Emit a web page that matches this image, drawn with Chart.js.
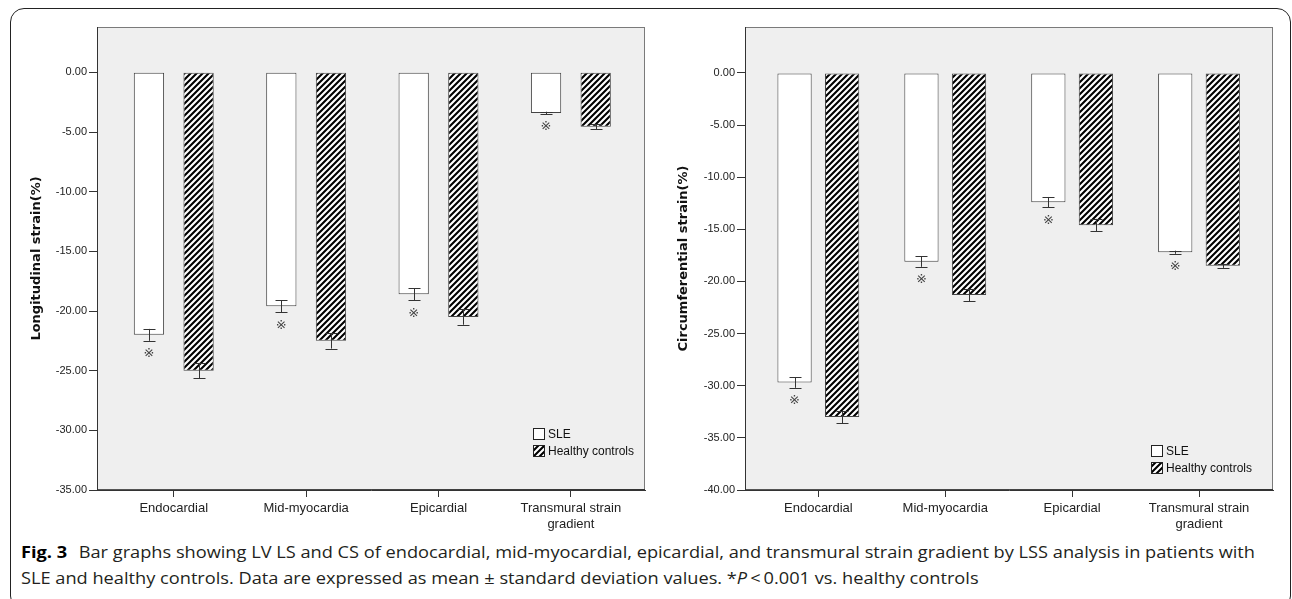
<!DOCTYPE html>
<html lang="en">
<head>
<meta charset="UTF-8">
<title>LV LS and CS</title>
<style>
  html, body { margin: 0; padding: 0; background: #fff; }
  body { width: 1292px; height: 599px; position: relative; overflow: hidden; }
  #box { position: absolute; left: 10px; top: 8px; width: 1279px; height: 600px;
         border: 1px solid #222; border-radius: 14px; }
  canvas { position: absolute; top: 0; }
  #c1 { left: 0; }
  #c2 { left: 646px; }
  #cap { position: absolute; left: 21px; top: 539px; font-family: "Open Sans", sans-serif;
         font-size: 16px; line-height: 26px; color: #231f20; white-space: nowrap; }
  #cap .ln { display: block; transform-origin: 0 50%; }
  #cap .ln span { display: inline-block; }
  #cap b { font-weight: 700; color: #000; margin-right: 6px; }
</style>
</head>
<body>
<div id="box"></div>
<canvas id="c1" width="646" height="535"></canvas>
<canvas id="c2" width="646" height="535"></canvas>
<div id="cap">
  <div class="ln"><span id="l1"><b>Fig. 3</b> Bar graphs showing LV LS and CS of endocardial, mid-myocardial, epicardial, and transmural strain gradient by LSS analysis in patients with</span></div>
  <div class="ln"><span id="l2">SLE and healthy controls. Data are expressed as mean ± standard deviation values. *<i>P</i>&thinsp;&lt;&thinsp;0.001 vs. healthy controls</span></div>
</div>

<script src="https://cdn.jsdelivr.net/npm/chart.js"></script>
<script>
  // data
  const categories = ['Endocardial', 'Mid-myocardia', 'Epicardial', 'Transmural strain\ngradient'];
  const seriesNames = ['SLE', 'Healthy controls'];

  const lsSle = [-22.0, -19.6, -18.6, -3.4];
  const lsSleErr = [0.5, 0.5, 0.5, 0.1];
  const lsHc = [-25.0, -22.5, -20.5, -4.55];
  const lsHcErr = [0.65, 0.65, 0.65, 0.2];

  const csSle = [-29.7, -18.1, -12.4, -17.2];
  const csSleErr = [0.5, 0.5, 0.5, 0.15];
  const csHc = [-33.0, -21.3, -14.6, -18.5];
  const csHcErr = [0.6, 0.6, 0.6, 0.2];

  const significant = [true, true, true, true]; // ※ under SLE bars

  const lsTicks = [0, -5, -10, -15, -20, -25, -30, -35];
  const csTicks = [0, -5, -10, -15, -20, -25, -30, -35, -40];

  // diagonal hatch for the controls
  function makeHatch() {
    const c = document.createElement('canvas');
    c.width = c.height = 6;
    const g = c.getContext('2d');
    g.fillStyle = '#fff';
    g.fillRect(0, 0, 6, 6);
    g.strokeStyle = '#000';
    g.lineWidth = 2.1;
    g.beginPath();
    g.moveTo(-1, 7); g.lineTo(7, -1);
    g.moveTo(-4, 4); g.lineTo(4, -4);
    g.moveTo(2, 10); g.lineTo(10, 2);
    g.stroke();
    return g.createPattern(c, 'repeat');
  }
  const hatch = makeHatch();

  // grey plot panel, error bars, ※ marks, legend
  const extras = {
    id: 'extras',
    beforeDraw(chart) {
      const a = chart.chartArea, ctx = chart.ctx;
      ctx.save();
      ctx.fillStyle = '#efefef';
      ctx.fillRect(a.left, a.top, a.width, a.height);
      ctx.restore();
    },
    afterDatasetsDraw(chart, args, opts) {
      const ctx = chart.ctx, ys = chart.scales.y;
      ctx.save();
      ctx.strokeStyle = '#333';
      ctx.lineWidth = 1;
      chart.data.datasets.forEach((ds, d) => {
        chart.getDatasetMeta(d).data.forEach((bar, i) => {
          const v = ds.data[i].y, e = opts.errs[d][i];
          const x = Math.round(bar.x) + 0.5;
          const lo = ys.getPixelForValue(v - e), hi = ys.getPixelForValue(v + e);
          ctx.beginPath();
          ctx.moveTo(x, hi); ctx.lineTo(x, lo);
          ctx.moveTo(x - 6, Math.round(hi) + 0.5); ctx.lineTo(x + 6, Math.round(hi) + 0.5);
          ctx.moveTo(x - 6, Math.round(lo) + 0.5); ctx.lineTo(x + 6, Math.round(lo) + 0.5);
          ctx.stroke();
          if (d === 0 && significant[i]) {
            ctx.fillStyle = '#444';
            ctx.font = '13px "DejaVu Sans", "Noto Sans CJK SC"';
            ctx.textAlign = 'center';
            ctx.textBaseline = 'middle';
            ctx.fillText('\u203B', bar.x, lo + 13);
          }
        });
      });
      ctx.restore();
    },
    afterDraw(chart, args, opts) {
      const a = chart.chartArea, ctx = chart.ctx;
      ctx.save();
      ctx.strokeStyle = '#7a7a7a';
      ctx.lineWidth = 1;
      ctx.strokeRect(a.left + 0.5, a.top + 0.5, a.width - 1, a.height - 1);
      ctx.strokeStyle = '#333';
      ctx.beginPath();
      ctx.moveTo(a.left + 0.5, a.top); ctx.lineTo(a.left + 0.5, a.bottom);
      ctx.lineTo(a.right, a.bottom - 0.5);
      ctx.stroke();
      // legend
      ctx.font = '12px "Liberation Sans", Arial';
      ctx.textBaseline = 'middle';
      ctx.textAlign = 'left';
      chart.data.datasets.forEach((ds, d) => {
        const x = opts.legendX, y = opts.legendY + d * 17;
        ctx.fillStyle = ds.backgroundColor;
        ctx.fillRect(x, y, 12, 12);
        ctx.strokeStyle = '#222';
        ctx.strokeRect(x + 0.5, y + 0.5, 11, 11);
        ctx.fillStyle = '#111';
        ctx.fillText(ds.label, x + 15, y + 6.5);
      });
      ctx.restore();
    }
  };

  function makeChart(id, cfg) {
    const bar = {
      borderColor: '#444', borderWidth: 1, borderSkipped: false,
      categoryPercentage: 0.75, barPercentage: cfg.barPct
    };
    return new Chart(document.getElementById(id), {
      type: 'bar',
      data: {
        datasets: [
          Object.assign({ label: seriesNames[0], backgroundColor: '#fff',
            data: cfg.sle.map((v, i) => ({ x: i, y: v })) }, bar),
          Object.assign({ label: seriesNames[1], backgroundColor: hatch,
            data: cfg.hc.map((v, i) => ({ x: i, y: v })) }, bar)
        ]
      },
      options: {
        responsive: false,
        animation: false,
        devicePixelRatio: 1,
        layout: { padding: { left: 0, right: cfg.padRight, top: 27, bottom: 0 } },
        plugins: {
          legend: { display: false },
          tooltip: { enabled: false },
          extras: { errs: [cfg.sleErr, cfg.hcErr], legendX: cfg.legendX, legendY: cfg.legendY }
        },
        scales: {
          x: {
            type: 'linear', offset: false, min: cfg.xMin, max: cfg.xMax,
            afterBuildTicks: s => { s.ticks = categories.map((c, i) => ({ value: i })); },
            afterFit: s => { s.height = 45; },
            ticks: {
              autoSkip: false, maxRotation: 0, padding: 4, color: '#222',
              font: { family: '"Liberation Sans", Arial', size: 13 },
              callback: v => (categories[v] || '').split('\n')
            },
            grid: { offset: false, drawOnChartArea: false, tickLength: 7, tickColor: '#333' },
            border: { color: '#333' }
          },
          y: {
            min: cfg.yMin, max: cfg.yMax,
            afterBuildTicks: s => { s.ticks = cfg.ticks.map(v => ({ value: v })); },
            afterFit: s => { s.width = cfg.axisWidth; },
            ticks: {
              padding: 2, color: '#222',
              font: { family: '"Liberation Sans", Arial', size: 11 },
              callback: v => v.toFixed(2)
            },
            grid: { drawOnChartArea: false, tickLength: 8, tickColor: '#333' },
            border: { color: '#333' },
            title: {
              display: true, text: cfg.title, color: '#111',
              font: { family: '"DejaVu Sans"', weight: 'bold', size: 13 },
              padding: { top: cfg.titlePad, bottom: 0 }
            }
          }
        }
      },
      plugins: [extras]
    });
  }

  makeChart('c1', {
    sle: lsSle, sleErr: lsSleErr, hc: lsHc, hcErr: lsHcErr,
    ticks: lsTicks, yMin: -35, yMax: 3.8, xMin: -0.58, xMax: 3.56,
    barPct: 0.61, padRight: 1, axisWidth: 97, titlePad: 29,
    title: 'Longitudinal strain(%)', legendX: 533, legendY: 428
  });

  makeChart('c2', {
    sle: csSle, sleErr: csSleErr, hc: csHc, hcErr: csHcErr,
    ticks: csTicks, yMin: -40, yMax: 4.4, xMin: -0.578, xMax: 3.583,
    barPct: 0.72, padRight: 19, axisWidth: 99, titlePad: 30,
    title: 'Circumferential strain(%)', legendX: 505, legendY: 445
  });

  // squeeze the caption to the width of the printed one
  const l1 = document.getElementById('l1');
  const k = 1234 / l1.getBoundingClientRect().width;
  document.querySelectorAll('#cap .ln').forEach(el => { el.style.transform = 'scaleX(' + k + ')'; });
</script>
</body>
</html>
